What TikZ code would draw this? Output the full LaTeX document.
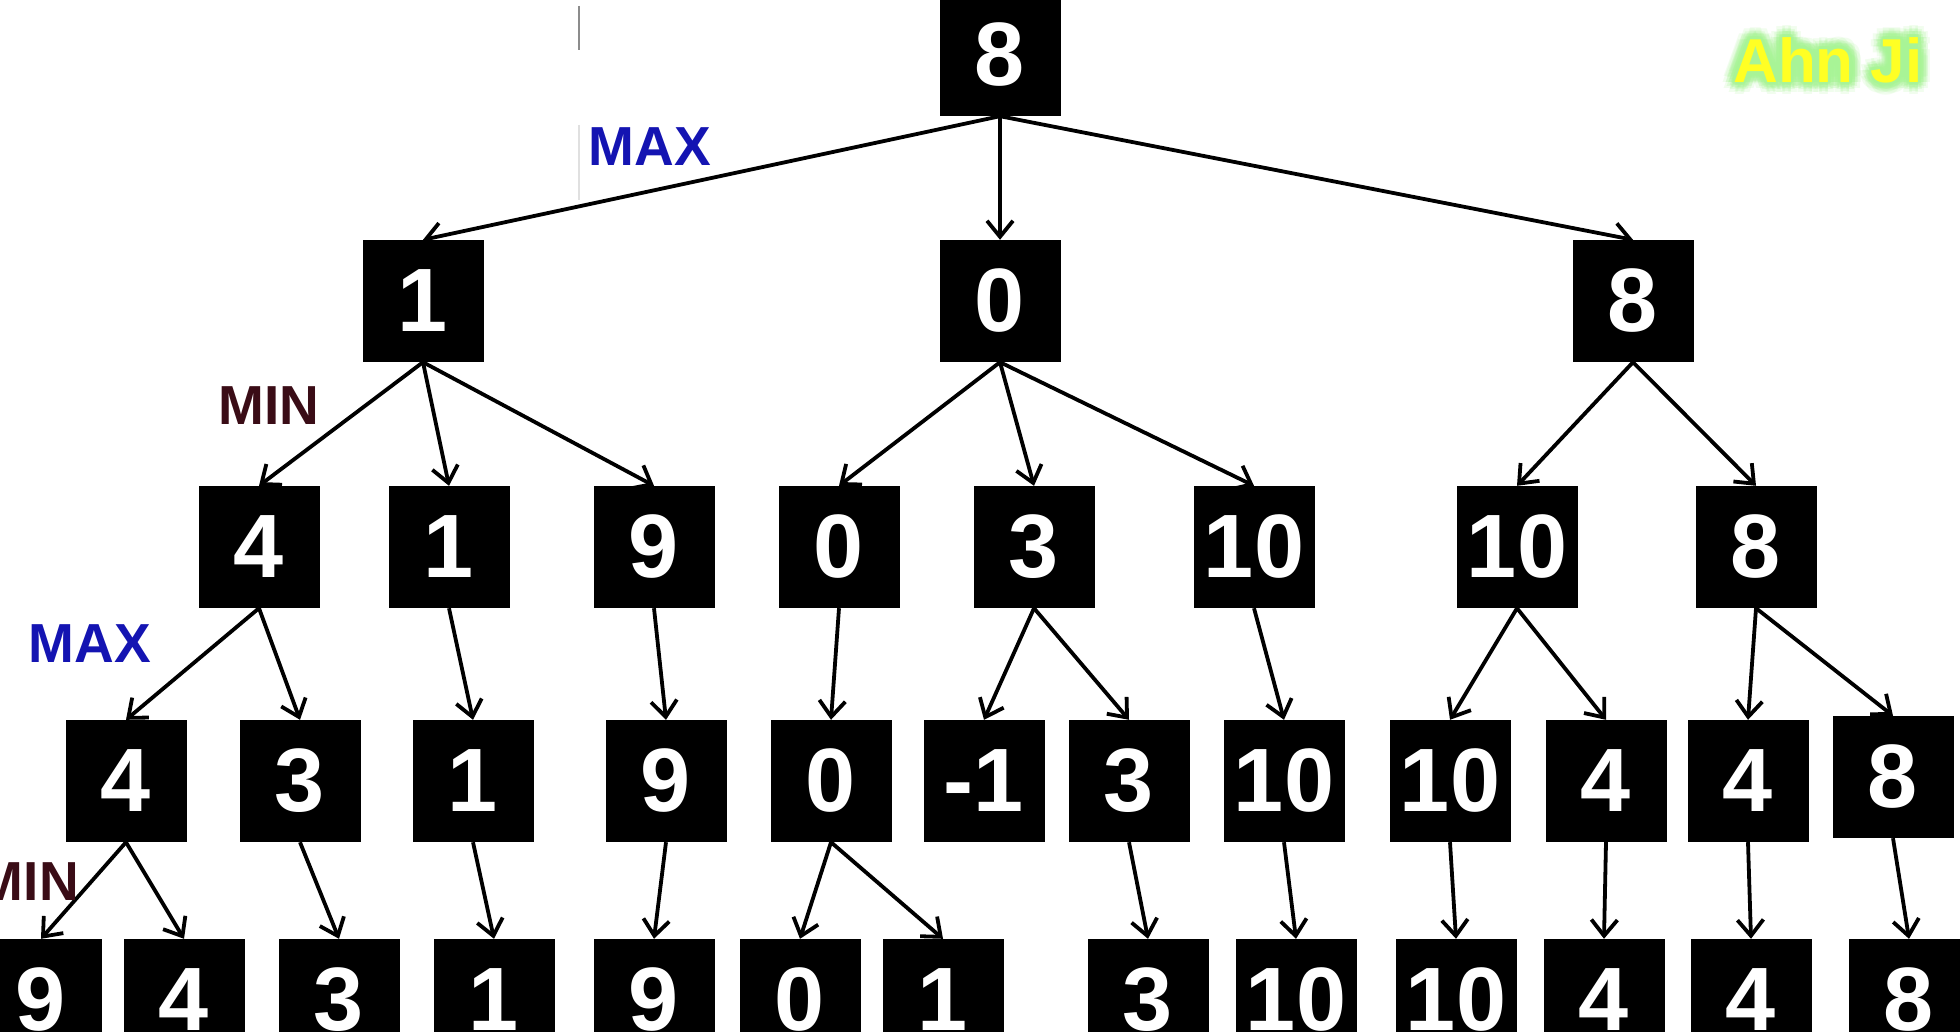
\documentclass[tikz,border=0pt]{standalone}
\usepackage{fontspec}
\setmainfont{Liberation Sans}
\usetikzlibrary{arrows.meta}
\definecolor{maxblue}{RGB}{20,20,178}
\definecolor{minred}{RGB}{58,12,22}
\definecolor{glowgreen}{RGB}{168,244,150}
\definecolor{markyellow}{RGB}{255,255,36}
\begin{document}
\begin{tikzpicture}[x=1pt,y=-1pt,
  val/.style={fill=black, text=white, minimum width=121pt, minimum height=122pt,
    inner sep=0pt, font=\fontsize{90}{90}\selectfont\bfseries},
  link/.style={line width=3.8pt, -{Straight Barb[length=16pt,width=26pt]}},
  lvl/.style={font=\fontsize{55}{55}\selectfont\bfseries, inner sep=0pt},
  wm/.style={font=\fontsize{62}{62}\selectfont\bfseries, inner sep=0pt},
]
\useasboundingbox (0,0) rectangle (1960,1032);
\clip (0,0) rectangle (1960,1032);
\fill[white] (0,0) rectangle (1960,1032);

% faint pen marks
\draw[black!45, line width=1.6pt] (579,6) -- (579,50);
\draw[black!12, line width=1.4pt] (579,125) -- (579,200);

% root
\node[val] (r) at (1000,55) {8};
% depth 1
\node[val] (a1) at (423,301) {1};
\node[val] (a2) at (1000,301) {0};
\node[val] (a3) at (1633,301) {8};
% depth 2
\node[val] (b1) at (259,547) {4};
\node[val] (b2) at (449,547) {1};
\node[val] (b3) at (654,547) {9};
\node[val] (b4) at (839,547) {0};
\node[val] (b5) at (1034,547) {3};
\node[val] (b6) at (1254,547) {10};
\node[val] (b7) at (1517,547) {10};
\node[val] (b8) at (1756,547) {8};
% depth 3
\node[val] (c1) at (126,781) {4};
\node[val] (c2) at (300,781) {3};
\node[val] (c3) at (473,781) {1};
\node[val] (c4) at (666,781) {9};
\node[val] (c5) at (831,781) {0};
\node[val] (c6) at (984,781) {-1};
\node[val] (c7) at (1129,781) {3};
\node[val] (c8) at (1284,781) {10};
\node[val] (c9) at (1450,781) {10};
\node[val] (c10) at (1606,781) {4};
\node[val] (c11) at (1748,781) {4};
\node[val] (c12) at (1893,777) {8};
% depth 4
\node[val] (d1) at (41,1000) {9};
\node[val] (d2) at (184,1000) {4};
\node[val] (d3) at (339,1000) {3};
\node[val] (d4) at (494,1000) {1};
\node[val] (d5) at (654,1000) {9};
\node[val] (d6) at (800,1000) {0};
\node[val] (d7) at (943,1000) {1};
\node[val] (d8) at (1148,1000) {3};
\node[val] (d9) at (1296,1000) {10};
\node[val] (d10) at (1456,1000) {10};
\node[val] (d11) at (1604,1000) {4};
\node[val] (d12) at (1751,1000) {4};
\node[val] (d13) at (1909,1000) {8};

% edges
\foreach \p/\c in {r/a1, r/a2, r/a3,
  a1/b1, a1/b2, a1/b3, a2/b4, a2/b5, a2/b6, a3/b7, a3/b8,
  b1/c1, b1/c2, b2/c3, b3/c4, b4/c5, b5/c6, b5/c7, b6/c8, b7/c9, b7/c10, b8/c11, b8/c12,
  c1/d1, c1/d2, c2/d3, c3/d4, c4/d5, c5/d6, c5/d7, c7/d8, c8/d9, c9/d10, c10/d11, c11/d12, c12/d13}
  \draw[link] (\p.south) -- (\c.north);

% level labels
\node[lvl, text=maxblue] (max1) at (650,147) {MAX};
\node[lvl, text=minred] (min1) at (269,406) {MIN};
\node[lvl, text=maxblue] (max2) at (90,644) {MAX};
\node[lvl, text=minred, anchor=east] (min2) at (79,882) {MIN};

% glowing signature: soft green halo built from offset copies
\foreach \rr/\op in {12/0.16, 9/0.22, 6/0.32, 3/0.5}
  \foreach \a in {0,30,...,330}
    \path (1828,60) ++(\a:\rr) node[wm, text=glowgreen, opacity=\op] (glow-\rr-\a) {Ahn Ji};
\node[wm, text=markyellow] (sig) at (1828,60) {Ahn Ji};
\end{tikzpicture}
\end{document}
